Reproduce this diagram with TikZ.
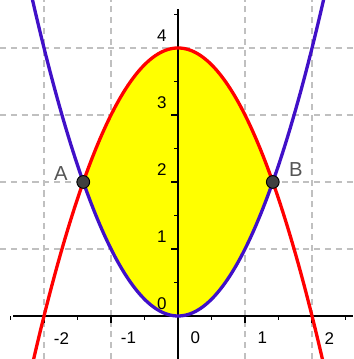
\documentclass[tikz,border=0pt]{standalone}
\usepackage{fontspec}
\setmainfont{Liberation Sans}
\usepackage{tikz}
\usetikzlibrary{arrows.meta,positioning,calc}
\definecolor{CurveRed}{HTML}{FF0000}
\definecolor{CurveBlue}{HTML}{4010C8}
\definecolor{AreaYellow}{HTML}{FFFF00}
\definecolor{GridGrey}{HTML}{C0C0C0}
\definecolor{LabelGrey}{HTML}{555555}
\definecolor{PointGrey}{HTML}{404040}

\begin{document}
\begin{tikzpicture}[
            font=\fontsize{7.2}{8}\selectfont,
            gridline/.style={draw=GridGrey, dash pattern=on 2.6pt off 2pt, line width=0.5pt},
            axisline/.style={draw=black, line width=0.8pt},
            tickmark/.style={draw=black, line width=0.6pt},
            parab/.style={line width=1.4pt, smooth, samples=60},
            meetpt/.style={circle, draw=black, fill=PointGrey, line width=0.4pt, minimum size=0.19cm, inner sep=0pt},
            ptlabel/.style={text=LabelGrey, font=\fontsize{8.6}{10}\selectfont},
        ]
        \useasboundingbox (-2.657,-0.642) rectangle (2.612,4.716);
        \clip (-2.657,-0.642) rectangle (2.612,4.716);

        % grid
        \foreach \x in {-2,-1,1,2}
            \draw[gridline] (\x,-0.642) -- (\x,4.716);
        \foreach \y in {1,2,3,4}
            \draw[gridline] (-2.657,\y) -- (2.612,\y);

        % area between the curves
        \fill[AreaYellow] plot[smooth, samples=60, domain=-1.4142:1.4142] (\x,{4-\x*\x})
            -- plot[smooth, samples=60, domain=1.4142:-1.4142] (\x,{\x*\x}) -- cycle;

        % axes
        \coordinate (xstart) at (-2.46,0);
        \coordinate (xend) at (2.612,0);
        \coordinate (ystart) at (0,-0.642);
        \coordinate (yend) at (0,4.58);
        \draw[axisline] (xstart) -- (xend);
        \draw[axisline] (ystart) -- (yend);
        \foreach \x in {-2,-1,1,2}
            \draw[tickmark] (\x,0) -- (\x,-0.1);
        \foreach \x in {-2.5,-1.5,-0.5,0.5,1.5,2.5}
            \draw[tickmark] (\x,0) -- (\x,-0.06);
        \foreach \y in {1,2,3,4}
            \draw[tickmark] (0,\y) -- (-0.1,\y);
        \foreach \y in {0.5,1.5,2.5,3.5,4.5}
            \draw[tickmark] (0,\y) -- (-0.06,\y);
        \foreach \x in {-2,-1,0,1,2}
            \node (xl\x) at (\x+0.26,-0.33) {\x};
        \foreach \y in {0,1,2,3,4}
            \node (yl\y) at (-0.24,\y+0.19) {\y};

        % curves
        \draw[parab, CurveBlue] plot[domain=-2.2:2.2] (\x,{\x*\x});
        \draw[parab, CurveRed] plot[domain=-2.2:2.2] (\x,{4-\x*\x});

        % intersection points
        \node[meetpt] (ptA) at (-1.4142,2) {};
        \node[meetpt] (ptB) at (1.4142,2) {};
        \node[ptlabel] (labA) at (-1.75,2.12) {A};
        \node[ptlabel] (labB) at (1.76,2.19) {B};
    \end{tikzpicture}
\end{document}
